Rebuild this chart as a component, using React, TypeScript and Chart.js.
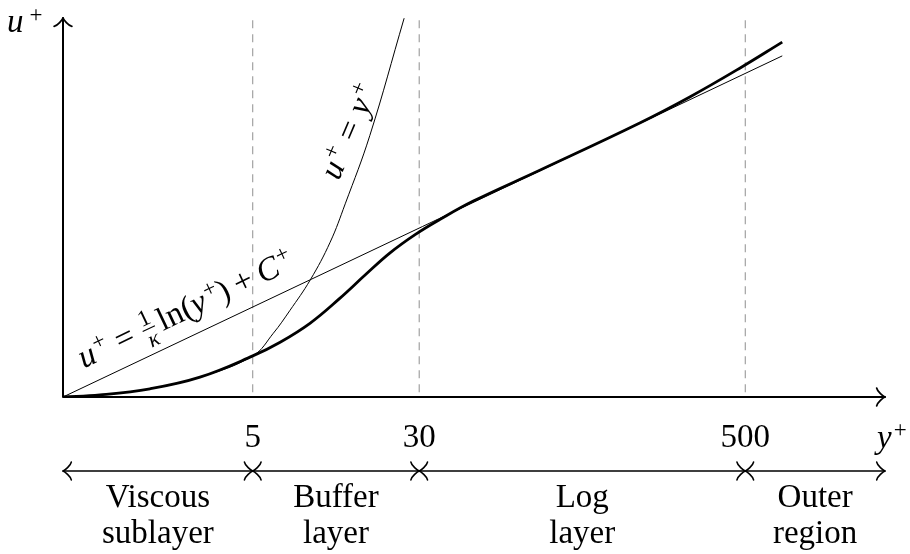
import React, { useEffect, useRef } from 'react';
import { Chart, registerables } from 'chart.js';

Chart.register(...registerables);

// ---- Data (plot units: schematic y+ position vs u+) ----
const X_MAX = 12;
const U_MAX = 5.533;

// mean velocity profile (thick curve)
const profileX = [0, 0.54, 1.27, 2.0, 2.77, 3.17, 3.61, 4.04, 4.41, 4.77, 5.14, 5.5, 5.99, 6.96, 8.42, 9.15, 9.88, 10.5];
const profileU = [0, 0.03, 0.12, 0.29, 0.6, 0.8, 1.08, 1.44, 1.78, 2.1, 2.37, 2.59, 2.86, 3.31, 4.0, 4.38, 4.8, 5.18];

// viscous law u+ = y+
const viscX = [0, 0.54, 1.27, 2.0, 2.77, 3.07, 3.31, 3.61, 3.9, 4.12, 4.48, 4.98];
const viscU = [0, 0.03, 0.12, 0.29, 0.6, 0.93, 1.26, 1.71, 2.26, 2.82, 3.82, 5.53];

// log law u+ = (1/k) ln(y+) + C+
const logX = [0, 10.5];
const logU = [0, 4.98];

// region boundaries on the y+ axis
const boundaryPos = [2.77, 5.2, 9.96];
const boundaryLabels = ['5', '30', '500'];
const boundaryTop = 5.5;
const regionNames = [
  ['Viscous', 'sublayer'],
  ['Buffer', 'layer'],
  ['Log', 'layer'],
  ['Outer', 'region'],
];

// ---- Drawing helpers ----
const FAMILY = '"Liberation Serif", "Times New Roman", serif';
const FS = 33;
const font = (size: number, it = false) => `${it ? 'italic ' : ''}${size}px ${FAMILY}`;

type Seg = { t?: string; it?: boolean; s?: number; dy?: number; frac?: [string, string]; gap?: number };

function segW(ctx: CanvasRenderingContext2D, g: Seg): number {
  if (g.gap) return g.gap;
  if (g.frac) {
    ctx.font = font(23);
    const a = ctx.measureText(g.frac[0]).width;
    ctx.font = font(23, true);
    const b = ctx.measureText(g.frac[1]).width;
    return Math.max(a, b) + 4;
  }
  ctx.font = font(g.s ?? FS, g.it);
  return ctx.measureText(g.t || '').width;
}

function drawRich(ctx: CanvasRenderingContext2D, segs: Seg[], cx: number, cy: number, ang: number, align: 'center' | 'left' = 'center') {
  ctx.save();
  ctx.translate(cx, cy);
  ctx.rotate(ang);
  ctx.textBaseline = 'alphabetic';
  ctx.textAlign = 'left';
  const ws = segs.map((g) => segW(ctx, g));
  const tot = ws.reduce((a, b) => a + b, 0);
  let x = align === 'center' ? -tot / 2 : 0;
  segs.forEach((g, i) => {
    const w = ws[i];
    if (g.frac) {
      ctx.textAlign = 'center';
      ctx.font = font(23);
      ctx.fillText(g.frac[0], x + w / 2, -12.5);
      ctx.font = font(23, true);
      ctx.fillText(g.frac[1], x + w / 2, 10.5);
      ctx.textAlign = 'left';
      ctx.fillRect(x + 1, -8.8, w - 2, 1.1);
    } else if (g.t) {
      ctx.font = font(g.s ?? FS, g.it);
      ctx.fillText(g.t, x, g.dy ?? 0);
    }
    x += w;
  });
  ctx.restore();
}

function arrowHead(ctx: CanvasRenderingContext2D, tx: number, ty: number, dx: number, dy: number, L = 8.3) {
  const u = L / 3.75;
  const px = -dy;
  const py = dx;
  const P = (a: number, b: number) => [tx + a * u * dx + b * u * px, ty + a * u * dy + b * u * py];
  ctx.beginPath();
  for (const s of [1, -1]) {
    const p0 = P(-3.75, 4 * s);
    const c1 = P(-3.5, 2.5 * s);
    const c2 = P(-0.75, 0.25 * s);
    ctx.moveTo(p0[0], p0[1]);
    ctx.bezierCurveTo(c1[0], c1[1], c2[0], c2[1], tx, ty);
  }
  ctx.stroke();
}

const SUP = { s: 23, dy: -11 };
const eqVisc: Seg[] = [
  { t: 'u', it: true }, { gap: 2 }, { t: '+', ...SUP }, { gap: 10 }, { t: '=' }, { gap: 10 }, { t: 'y', it: true }, { gap: 2 }, { t: '+', ...SUP },
];
const eqLog: Seg[] = [
  { t: 'u', it: true }, { gap: 2 }, { t: '+', ...SUP }, { gap: 9 }, { t: '=' }, { gap: 9 }, { frac: ['1', 'κ'] }, { gap: 4 },
  { t: 'ln' }, { t: '(' }, { t: 'y', it: true }, { gap: 2 }, { t: '+', ...SUP }, { t: ')' }, { gap: 7 }, { t: '+' }, { gap: 7 },
  { t: 'C', it: true }, { gap: 2 }, { t: '+', ...SUP },
];

const decorPlugin = {
  id: 'decor',
  afterDatasetsDraw(chart: any) {
    const { ctx } = chart;
    const xs = chart.scales.x;
    const ys = chart.scales.y;
    const X = (v: number) => xs.getPixelForValue(v);
    const Y = (v: number) => ys.getPixelForValue(v);
    const x0 = X(0);
    const y0 = Y(0);
    ctx.save();
    ctx.strokeStyle = '#000';
    ctx.fillStyle = '#000';
    ctx.lineCap = 'round';

    // axes
    ctx.lineWidth = 2;
    ctx.beginPath();
    ctx.moveTo(x0, y0);
    ctx.lineTo(X(X_MAX), y0);
    ctx.moveTo(x0, y0);
    ctx.lineTo(x0, Y(U_MAX));
    ctx.stroke();
    ctx.lineWidth = 1.8;
    arrowHead(ctx, X(X_MAX), y0, 1, 0);
    arrowHead(ctx, x0, Y(U_MAX), 0, -1);

    // axis labels
    drawRich(ctx, [{ t: 'u', it: true }, { gap: 6 }, { s: 23, dy: -10, t: '+' }], 7, Y(U_MAX) + 14, 0, 'left');
    drawRich(ctx, [{ t: 'y', it: true }, { gap: 2 }, { t: '+', ...SUP }], X(X_MAX) - 8, y0 + 51, 0, 'left');

    // boundary tick labels
    ctx.font = font(FS);
    ctx.textAlign = 'center';
    ctx.textBaseline = 'alphabetic';
    boundaryPos.forEach((p, i) => ctx.fillText(boundaryLabels[i], X(p), y0 + 50));

    // region arrows
    const ay = y0 + 74;
    const edges = [0, ...boundaryPos, X_MAX];
    ctx.lineWidth = 1.6;
    ctx.beginPath();
    ctx.moveTo(X(0), ay);
    ctx.lineTo(X(X_MAX), ay);
    ctx.stroke();
    for (let i = 0; i < edges.length - 1; i++) {
      arrowHead(ctx, X(edges[i]), ay, -1, 0);
      arrowHead(ctx, X(edges[i + 1]), ay, 1, 0);
    }
    ctx.font = font(FS);
    ctx.textAlign = 'center';
    regionNames.forEach((nm, i) => {
      const cx = (X(edges[i]) + X(edges[i + 1])) / 2;
      ctx.fillText(nm[0], cx, y0 + 110);
      ctx.fillText(nm[1], cx, y0 + 146);
    });

    // curve labels
    drawRich(ctx, eqVisc, X(4.31), Y(3.82), (-67 * Math.PI) / 180);
    drawRich(ctx, eqLog, X(1.85), Y(1.15), (-25.4 * Math.PI) / 180);

    ctx.restore();
  },
};

export default function App() {
  const ref = useRef<HTMLCanvasElement | null>(null);
  useEffect(() => {
    if (!ref.current) return;
    const pts = (xs: number[], ys: number[]) => xs.map((x, i) => ({ x, y: ys[i] }));
    const dashed = boundaryPos.map((p) => ({
      data: [{ x: p, y: boundaryTop }, { x: p, y: 0 }],
      borderColor: '#8f8f8f',
      borderWidth: 1,
      borderDash: [8, 6],
      pointRadius: 0,
      tension: 0,
      fill: false,
    }));
    const chart = new Chart(ref.current, {
      type: 'line',
      data: {
        datasets: [
          {
            data: pts(profileX, profileU),
            borderColor: '#000',
            borderWidth: 2.8,
            pointRadius: 0,
            tension: 0.4,
            fill: false,
          },
          {
            data: pts(viscX, viscU),
            borderColor: '#000',
            borderWidth: 1,
            pointRadius: 0,
            tension: 0.4,
            fill: false,
          },
          {
            data: pts(logX, logU),
            borderColor: '#000',
            borderWidth: 1,
            pointRadius: 0,
            tension: 0,
            fill: false,
          },
          ...dashed,
        ] as any,
      },
      options: {
        responsive: false,
        animation: false,
        events: [],
        layout: { padding: { left: 63, right: 25, top: 18, bottom: 157 } },
        scales: {
          x: { type: 'linear', min: 0, max: X_MAX, display: false },
          y: { type: 'linear', min: 0, max: U_MAX, display: false },
        },
        plugins: { legend: { display: false }, tooltip: { enabled: false } },
      },
      plugins: [decorPlugin],
    });
    return () => chart.destroy();
  }, []);
  return (
    <div style={{ position: 'absolute', left: 0, top: 0, width: 910, height: 554, background: '#fff' }}>
      <canvas ref={ref} width={910} height={554} style={{ display: 'block' }} />
    </div>
  );
}
